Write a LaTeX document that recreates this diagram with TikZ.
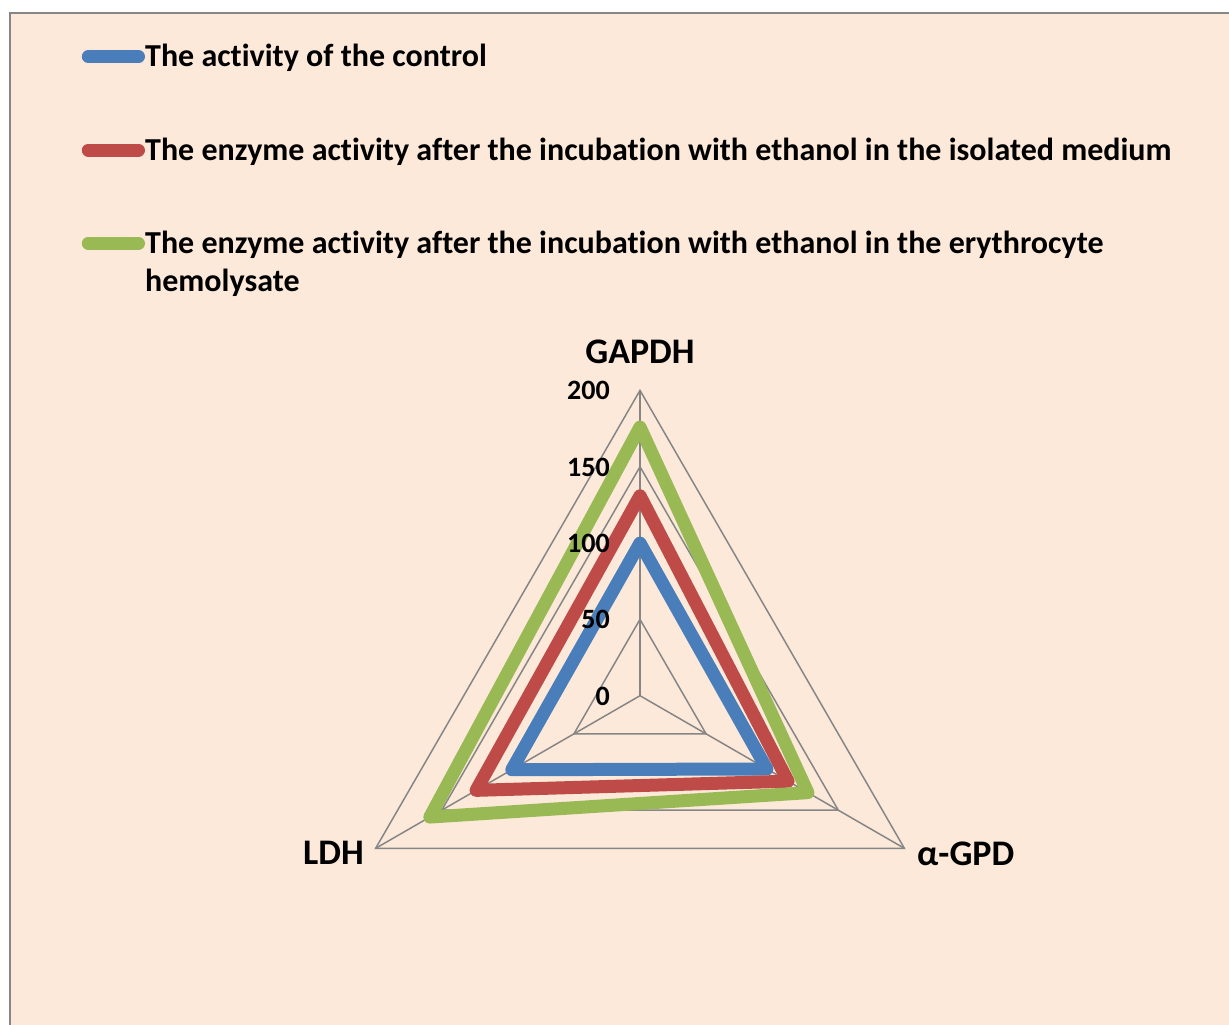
\documentclass[tikz,border=0pt]{standalone}
\usepackage{fontspec}
\setmainfont{Carlito}[Ligatures=NoCommon]
\definecolor{bgpeach}{HTML}{FDE9D9}
\definecolor{gridgray}{HTML}{868686}
\definecolor{serblue}{HTML}{4A7EBB}
\definecolor{serred}{HTML}{BE4B48}
\definecolor{sergreen}{HTML}{98B954}
\begin{document}
\begin{tikzpicture}[x=1pt,y=-1pt,
  gridline/.style={draw=gridgray,line width=1.5pt},
  series/.style={line width=13pt,line join=round,line cap=round},
  legtext/.style={anchor=base west,inner sep=0pt,font=\fontsize{32}{38}\selectfont\bfseries},
  axlabel/.style={inner sep=0pt,font=\fontsize{36}{42}\selectfont\bfseries},
  ticklabel/.style={anchor=base east,inner sep=0pt,font=\fontsize{28}{33}\selectfont\bfseries}]
\def\cx{640}\def\cy{695.7}\def\sc{1.5265}
\useasboundingbox (0,0) rectangle (1229,1025);
\fill[white] (0,0) rectangle (1229,1025);
\fill[bgpeach] (10,13.5) rectangle (1229,1025);
\draw[gridgray,line width=2pt] (10,1025) -- (10,13.5) -- (1229,13.5);
% grid
\coordinate (ctr) at (\cx,\cy);
\foreach \v in {50,100,150,200}{
  \draw[gridline] ({\cx},{\cy-\v*\sc}) -- ({\cx+0.8660*\v*\sc},{\cy+0.5*\v*\sc}) -- ({\cx-0.8660*\v*\sc},{\cy+0.5*\v*\sc}) -- cycle;
}
\coordinate (axG) at ({\cx},{\cy-200*\sc});
\coordinate (axA) at ({\cx+0.8660*200*\sc},{\cy+0.5*200*\sc});
\coordinate (axL) at ({\cx-0.8660*200*\sc},{\cy+0.5*200*\sc});
\draw[gridline] (ctr) -- (axG);
\draw[gridline] (ctr) -- (axA);
\draw[gridline] (ctr) -- (axL);
% series
\newcommand\serpoly[4]{%
  \draw[series,#1] ({\cx},{\cy-#2*\sc}) -- ({\cx+0.8660*#3*\sc},{\cy+0.5*#3*\sc}) -- ({\cx-0.8660*#4*\sc},{\cy+0.5*#4*\sc}) -- cycle;}
\serpoly{serblue}{100}{96}{97}
\serpoly{serred}{131}{112}{124}
\serpoly{sergreen}{176}{127}{159}
% tick labels (on top of series)
\foreach \v in {0,50,100,150,200}{
  \node[ticklabel] (tick\v) at (610,{\cy-\v*\sc+9.3}) {\v};
}
% axis labels
\node[axlabel,anchor=base] (labG) at (640,363) {GAPDH};
\node[axlabel,anchor=base east] (labL) at (364,864.5) {LDH};
\node[axlabel,anchor=base west] (labA) at (917,865) {α-GPD};
% legend
\coordinate (lb1) at (88.3,56.7); \coordinate (lb2) at (138.5,56.7);
\coordinate (lr1) at (88.3,150); \coordinate (lr2) at (138.5,150);
\coordinate (lg1) at (88.3,243.3); \coordinate (lg2) at (138.5,243.3);
\draw[series,serblue] (lb1) -- (lb2);
\draw[series,serred] (lr1) -- (lr2);
\draw[series,sergreen] (lg1) -- (lg2);
\node[legtext] (leg1) at (145,66.7) {The activity of the control};
\node[legtext] (leg2) at (145,160) {The enzyme activity after the incubation with ethanol in the isolated medium};
\node[legtext] (leg3a) at (145,253.3) {The enzyme activity after the incubation with ethanol in the erythrocyte};
\node[legtext] (leg3b) at (145,291.7) {hemolysate};
\end{tikzpicture}
\end{document}
